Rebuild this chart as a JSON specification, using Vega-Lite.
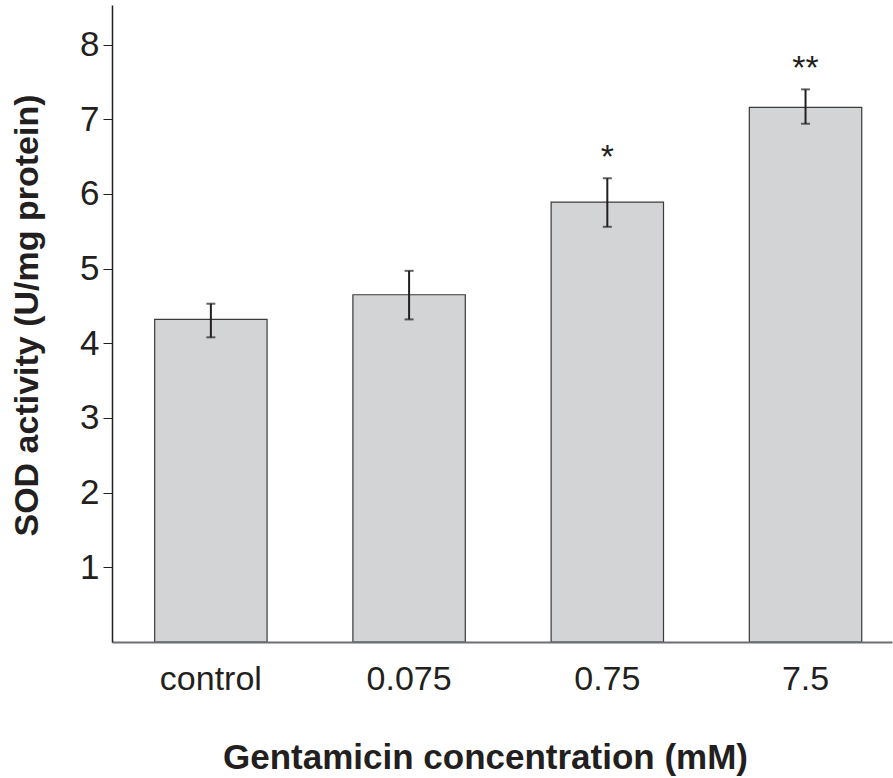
{
  "$schema": "https://vega.github.io/schema/vega-lite/v6.json",
  "width": 780,
  "height": 637,
  "autosize": {"type": "none"},
  "padding": {"left": 112, "top": 5, "right": 1, "bottom": 136},
  "background": "white",
  "config": {
    "view": {"stroke": null},
    "font": "Liberation Sans",
    "axis": {"grid": false}
  },
  "data": {
    "values": [
      {"group": "control", "mean": 4.32, "lower": 4.08, "upper": 4.53, "sig": ""},
      {"group": "0.075", "mean": 4.65, "lower": 4.32, "upper": 4.97, "sig": ""},
      {"group": "0.75", "mean": 5.89, "lower": 5.56, "upper": 6.21, "sig": "*"},
      {"group": "7.5", "mean": 7.16, "lower": 6.94, "upper": 7.40, "sig": "**"}
    ]
  },
  "encoding": {
    "x": {
      "field": "group",
      "type": "nominal",
      "sort": null,
      "scale": {"paddingInner": 0.433, "paddingOuter": 0.184, "align": 0.585, "round": false},
      "axis": {
        "title": "Gentamicin concentration (mM)",
        "labelAngle": 0,
        "ticks": false,
        "tickSize": 0,
        "labelPadding": 47,
        "labelBaseline": "alphabetic",
        "labelFontSize": 34,
        "labelColor": "#231f20",
        "domainColor": "#6d6e71",
        "domainWidth": 2,
        "titleFontSize": 35,
        "titleFontWeight": "bold",
        "titleColor": "#231f20",
        "titleX": 373,
        "titleY": 126,
        "titleBaseline": "alphabetic",
        "titleAlign": "center",
        "zindex": 1
      }
    }
  },
  "layer": [
    {
      "mark": {"type": "bar", "fill": "#d3d4d6", "stroke": "#3a3a3a", "strokeWidth": 1.2},
      "encoding": {
        "y": {
          "field": "mean",
          "type": "quantitative",
          "title": "SOD activity (U/mg protein)",
          "scale": {"domain": [0, 8.53], "nice": false, "zero": true},
          "axis": {
            "values": [1, 2, 3, 4, 5, 6, 7, 8],
            "format": "d",
            "domainColor": "#231f20",
            "domainWidth": 1.5,
            "tickColor": "#231f20",
            "tickWidth": 1,
            "tickSize": 9,
            "labelPadding": 4,
            "labelFontSize": 35,
            "labelColor": "#231f20",
            "titleFontSize": 34,
            "titleFontWeight": "bold",
            "titleColor": "#231f20",
            "titleX": -75,
            "titleY": 310,
            "titleAngle": -90,
            "titleBaseline": "alphabetic",
            "titleAlign": "center",
            "zindex": 1
          }
        }
      }
    },
    {
      "mark": {"type": "rule", "color": "#231f20", "strokeWidth": 2},
      "encoding": {
        "y": {"field": "lower", "type": "quantitative", "title": "SOD activity (U/mg protein)"},
        "y2": {"field": "upper"}
      }
    },
    {
      "mark": {"type": "tick", "color": "#231f20", "thickness": 2, "size": 9},
      "encoding": {
        "y": {"field": "lower", "type": "quantitative", "title": "SOD activity (U/mg protein)"}
      }
    },
    {
      "mark": {"type": "tick", "color": "#231f20", "thickness": 2, "size": 9},
      "encoding": {
        "y": {"field": "upper", "type": "quantitative", "title": "SOD activity (U/mg protein)"}
      }
    },
    {
      "mark": {"type": "text", "fontSize": 34, "dy": -10, "baseline": "alphabetic", "color": "#231f20"},
      "encoding": {
        "y": {"field": "upper", "type": "quantitative", "title": "SOD activity (U/mg protein)"},
        "text": {"field": "sig"}
      }
    }
  ]
}
